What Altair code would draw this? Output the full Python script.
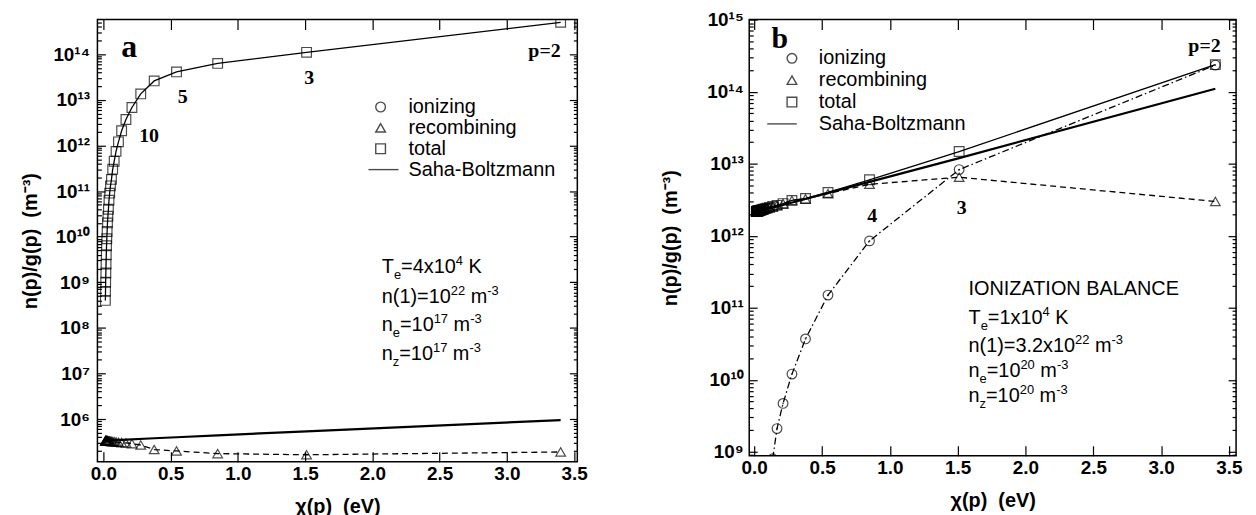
import altair as alt
import pandas as pd

FONT = "Liberation Sans"
SERIF = "Liberation Serif"

# ---------------- data ----------------
# levels p = 2 ... 30 and their energies chi(p) in eV
p_levels = list(range(2, 31))
chi_levels = [3.400, 1.511, 0.850, 0.544, 0.378, 0.278, 0.2125, 0.168, 0.136, 0.1124,
              0.0944, 0.0805, 0.0694, 0.0604, 0.0531, 0.0471, 0.0420, 0.0377, 0.0340,
              0.0308, 0.0281, 0.0257, 0.0236, 0.0218, 0.0201, 0.0187, 0.0173, 0.0162, 0.0151]

# panel a  (Te = 4x10^4 K)
a_total = [5.0e14, 1.1e14, 6.3e13, 4.1e13, 2.6e13, 1.35e13, 6.8e12, 3.7e12, 2.1e12, 1.2e12,
           7.4e11, 4.5e11, 3.0e11, 1.8e11, 1.3e11, 9.0e10, 6.3e10, 4.0e10, 2.8e10,
           2.0e10, 1.3e10, 9.0e9, 6.3e9, 4.0e9, 2.5e9, 1.6e9, 1.0e9, 6.3e8, 4.0e8]
a_recomb = [1.9e5, 1.65e5, 1.75e5, 2.0e5, 2.15e5, 2.7e5, 2.9e5, 3.0e5, 3.05e5, 3.1e5,
            3.15e5, 3.2e5, 3.2e5, 3.25e5, 3.25e5, 3.3e5, 3.3e5, 3.3e5, 3.3e5,
            3.35e5, 3.35e5, 3.35e5, 3.35e5, 3.35e5, 3.35e5, 3.35e5, 3.35e5, 3.35e5, 3.35e5]
saha_chi = [3.4, 1.511, 0.85, 0.544, 0.378, 0.136, 0.0151]
a_saha = [9.5e5, 5.4e5, 4.4e5, 4.0e5, 3.8e5, 3.5e5, 3.4e5]

# panel b  (Te = 1x10^4 K)
b_total = [2.38e14, 1.48e13, 6.0e12, 4.0e12, 3.3e12, 3.1e12, 2.8e12, 2.65e12, 2.55e12, 2.48e12,
           2.42e12, 2.38e12, 2.34e12, 2.31e12, 2.29e12, 2.27e12, 2.25e12, 2.24e12, 2.23e12,
           2.22e12, 2.21e12, 2.2e12, 2.2e12, 2.19e12, 2.19e12, 2.18e12, 2.18e12, 2.17e12, 2.17e12]
b_recomb = [3.0e12, 6.5e12, 5.2e12, 3.85e12, 3.26e12, 3.09e12, 2.8e12, 2.65e12, 2.55e12, 2.48e12,
            2.42e12, 2.38e12, 2.34e12, 2.31e12, 2.29e12, 2.27e12, 2.25e12, 2.24e12, 2.23e12,
            2.22e12, 2.21e12, 2.2e12, 2.2e12, 2.19e12, 2.19e12, 2.18e12, 2.18e12, 2.17e12, 2.17e12]
b_ion = [2.35e14, 8.3e12, 8.5e11, 1.5e11, 3.7e10, 1.2e10, 4.7e9, 2.1e9, 8.0e8]   # p = 2..10
b_saha = [1.1e14, 1.2e13, 5.6e12, 3.95e12, 3.24e12, 2.45e12, 2.14e12]

series_names = ["ionizing", "recombining", "total", "Saha-Boltzmann"]
x_ticks = [0.0, 0.5, 1.0, 1.5, 2.0, 2.5, 3.0, 3.5]

# ---------------- helpers ----------------
SUPMAP = str.maketrans("0123456789-", "⁰¹²³⁴⁵⁶⁷⁸⁹⁻")
W = {' ': 278, '(': 333, ')': 333, '-': 333, '.': 278, '=': 584, 'x': 500, 'K': 667,
     'T': 611, 'e': 556, 'n': 556, 'm': 833, 'z': 500, 'I': 278, 'O': 778, 'N': 722,
     'Z': 611, 'A': 667, 'B': 667, 'L': 556, 'C': 722, 'E': 667}
SYM = 95


def text_w(s, fs):
    return sum(W.get(c, 556) for c in s) * fs / 1000.0


def log_label_expr(exps):
    expr = "''"
    for e in exps:
        expr = f"round(log(datum.value)/LN10)=={e} ? '10{str(e).translate(SUPMAP)}' : " + expr
    return expr


def rich_layers(xs, ys, x, y, parts, size=20, small=13):
    out = []
    dx = 0.0
    for txt, kind in parts:
        fs = size if kind == 'n' else small
        dy = 0 if kind == 'n' else (6 if kind == 'sub' else -8)
        stripped = txt.lstrip(' ')
        dx += text_w(txt[:len(txt) - len(stripped)], fs)
        out.append(alt.Chart(pd.DataFrame({'x': [x], 'y': [y], 't': [stripped]})).mark_text(
            align='left', baseline='alphabetic', dx=dx, dy=dy, font=FONT, fontSize=fs,
            color='black').encode(
            x=alt.X('x:Q', scale=xs, axis=None),
            y=alt.Y('y:Q', scale=ys, axis=None),
            text='t:N'))
        dx += text_w(stripped, fs)
    return out


def make_panel(P):
    xs = alt.Scale(domain=P['xdom'], nice=False, zero=False)
    ys = alt.Scale(type='log', domain=P['ydom'], nice=False)
    exps = P['exps']
    ymaj = [10.0 ** e for e in exps]
    lo, hi = P['ydom']
    ymin = [k * 10.0 ** e for e in range(exps[0] - 1, exps[-1] + 1) for k in range(2, 10)
            if lo <= k * 10.0 ** e <= hi]
    dummy = pd.DataFrame({'x': [1.0], 'y': [ymaj[1]]})

    def axl(xaxis=None, yaxis=None):
        return alt.Chart(dummy).mark_point(opacity=0).encode(
            x=alt.X('x:Q', scale=xs, axis=xaxis),
            y=alt.Y('y:Q', scale=ys, axis=yaxis))

    def tick_axis(orient, values, size):
        return alt.Axis(orient=orient, values=values, labels=False, ticks=True, tickSize=size,
                        offset=-size, tickColor='black', tickWidth=1.2, domain=False,
                        grid=False, title=None)

    layers = [
        axl(xaxis=alt.Axis(orient='bottom', values=x_ticks, format='.1f', ticks=False,
                           domain=False, grid=False, labelFont=FONT, labelFontSize=19,
                           labelFontWeight='bold', labelColor='black', labelPadding=3,
                           labelFlush=False, title='χ(p)\u00a0\u00a0(eV)', titleFont=FONT,
                           titleFontSize=20, titleFontWeight='bold', titleColor='black',
                           titlePadding=13)),
        axl(xaxis=tick_axis('bottom', x_ticks, 10)),
        axl(xaxis=tick_axis('top', x_ticks, 10)),
        axl(yaxis=alt.Axis(orient='left', values=ymaj, labelExpr=log_label_expr(exps),
                           ticks=False, domain=False, grid=False, labelFont=FONT,
                           labelFontSize=19, labelFontWeight='bold', labelColor='black',
                           labelPadding=P['lpad'], labelFlush=False, labelOverlap=False,
                           title='n(p)/g(p)\u00a0\u00a0(m⁻³)', titleFont=FONT, titleFontSize=20,
                           titleFontWeight='bold', titleColor='black',
                           titlePadding=P['tpad'])),
        axl(yaxis=tick_axis('left', ymaj, 8)),
        axl(yaxis=tick_axis('left', ymin, 4)),
        axl(yaxis=tick_axis('right', ymaj, 8)),
        axl(yaxis=tick_axis('right', ymin, 4)),
    ]

    def line(chi, vals, dash, width):
        df = pd.DataFrame({'chi': chi, 'v': vals})
        m = alt.Chart(df).mark_line(color='black', strokeWidth=width, clip=True,
                                    **({'strokeDash': dash} if dash else {}))
        return m.encode(x=alt.X('chi:Q', scale=xs, axis=None),
                        y=alt.Y('v:Q', scale=ys, axis=None))

    layers.append(line(saha_chi, P['saha'], None, 2.2))
    layers.append(line(chi_levels, P['total'], None, 1.3))
    layers.append(line(chi_levels, P['recomb'], [6, 4], 1.3))
    if P['ion'] is not None:
        layers.append(line(chi_levels[:len(P['ion'])], P['ion'], [7, 3, 1.5, 3], 1.3))

    pts = []
    for name in P['marked']:
        vals = {'total': P['total'], 'recombining': P['recomb'], 'ionizing': P['ion']}[name]
        for c, v in zip(chi_levels, vals):
            pts.append({'chi': c, 'v': v, 'series': name})
    pdf = pd.DataFrame(pts)
    layers.append(alt.Chart(pdf).mark_point(filled=False, color='black', size=SYM,
                                            strokeWidth=1.2, clip=True).encode(
        x=alt.X('chi:Q', scale=xs, axis=None),
        y=alt.Y('v:Q', scale=ys, axis=None),
        shape=alt.Shape('series:N',
                        scale=alt.Scale(domain=series_names,
                                        range=['circle', 'triangle-up', 'square', P['saha_path']]),
                        legend=alt.Legend(orient='none', legendX=P['legx'], legendY=P['legy'],
                                          title=None, labelFont=FONT, labelFontSize=20,
                                          labelColor='black', symbolSize=SYM,
                                          symbolStrokeWidth=1.4, symbolStrokeColor='black',
                                          symbolFillColor='transparent',
                                          labelOffset=P['loff'], rowPadding=P['rowpad']))))
    if P['ion'] is not None:
        idf = pd.DataFrame({'chi': chi_levels[:len(P['ion'])], 'v': P['ion']})
        layers.append(alt.Chart(idf).mark_point(filled=True, color='black', size=3,
                                                clip=True).encode(
            x=alt.X('chi:Q', scale=xs, axis=None),
            y=alt.Y('v:Q', scale=ys, axis=None)))

    for txt, x, y, fs in P['labels']:
        layers.append(alt.Chart(pd.DataFrame({'x': [x], 'y': [y], 't': [txt]})).mark_text(
            font=SERIF, fontWeight='bold', fontSize=fs, color='black', align='center',
            baseline='middle').encode(
            x=alt.X('x:Q', scale=xs, axis=None), y=alt.Y('y:Q', scale=ys, axis=None),
            text='t:N'))
    for x, y, parts in P['notes']:
        layers.extend(rich_layers(xs, ys, x, y, parts))

    return alt.layer(*layers).resolve_axis(x='independent', y='independent').properties(
        width=P['w'], height=P['h'])


A = dict(
    xdom=[-0.044, 3.524], ydom=[10 ** 5.065, 10 ** 14.76], exps=list(range(6, 15)),
    total=a_total, recomb=a_recomb, ion=None, saha=a_saha,
    marked=['recombining', 'total'], saha_path='M-2.5,0H3.7',
    legx=275, legy=78, loff=18, rowpad=1, lpad=8, tpad=12, w=483, h=445,
    labels=[('a', 0.192, 10 ** 14.16, 32), ('p=2', 3.28, 10 ** 14.06, 20),
            ('3', 1.53, 10 ** 13.48, 20), ('5', 0.59, 10 ** 13.07, 20),
            ('10', 0.34, 10 ** 12.20, 20)],
    notes=[(2.07, 10 ** 9.196, [('T', 'n'), ('e', 'sub'), ('=4x10', 'n'), ('4', 'sup'), (' K', 'n')]),
           (2.07, 10 ** 8.543, [('n(1)=10', 'n'), ('22', 'sup'), (' m', 'n'), ('-3', 'sup')]),
           (2.07, 10 ** 7.935, [('n', 'n'), ('e', 'sub'), ('=10', 'n'), ('17', 'sup'), (' m', 'n'), ('-3', 'sup')]),
           (2.07, 10 ** 7.304, [('n', 'n'), ('z', 'sub'), ('=10', 'n'), ('17', 'sup'), (' m', 'n'), ('-3', 'sup')])],
)

B = dict(
    xdom=[-0.037, 3.553], ydom=[10 ** 8.945, 10 ** 15.003], exps=list(range(9, 16)),
    total=b_total, recomb=b_recomb, ion=b_ion, saha=b_saha,
    marked=['ionizing', 'recombining', 'total'], saha_path='M-5.1,0H1',
    legx=33, legy=29, loff=17, rowpad=2, lpad=6, tpad=26, w=490, h=439,
    labels=[('b', 0.188, 10 ** 14.73, 30), ('p=2', 3.32, 10 ** 14.63, 20),
            ('3', 1.53, 10 ** 12.39, 20), ('4', 0.87, 10 ** 12.27, 20)],
    notes=[(1.58, 10 ** 11.18, [('IONIZATION BALANCE', 'n')]),
           (1.58, 10 ** 10.78, [('T', 'n'), ('e', 'sub'), ('=1x10', 'n'), ('4', 'sup'), (' K', 'n')]),
           (1.58, 10 ** 10.38, [('n(1)=3.2x10', 'n'), ('22', 'sup'), (' m', 'n'), ('-3', 'sup')]),
           (1.58, 10 ** 10.04, [('n', 'n'), ('e', 'sub'), ('=10', 'n'), ('20', 'sup'), (' m', 'n'), ('-3', 'sup')]),
           (1.58, 10 ** 9.69, [('n', 'n'), ('z', 'sub'), ('=10', 'n'), ('20', 'sup'), (' m', 'n'), ('-3', 'sup')])],
)

chart = alt.hconcat(make_panel(A), make_panel(B), spacing=72).resolve_scale(
    x='independent', y='independent', shape='independent').resolve_legend(
    shape='independent').properties(
    padding={'left': 12, 'top': 0, 'right': 5, 'bottom': 0}, background='white'
).configure_view(stroke='black', strokeWidth=1.5)

chart.save("out.html", embed_options={"renderer": "svg", "actions": False})
